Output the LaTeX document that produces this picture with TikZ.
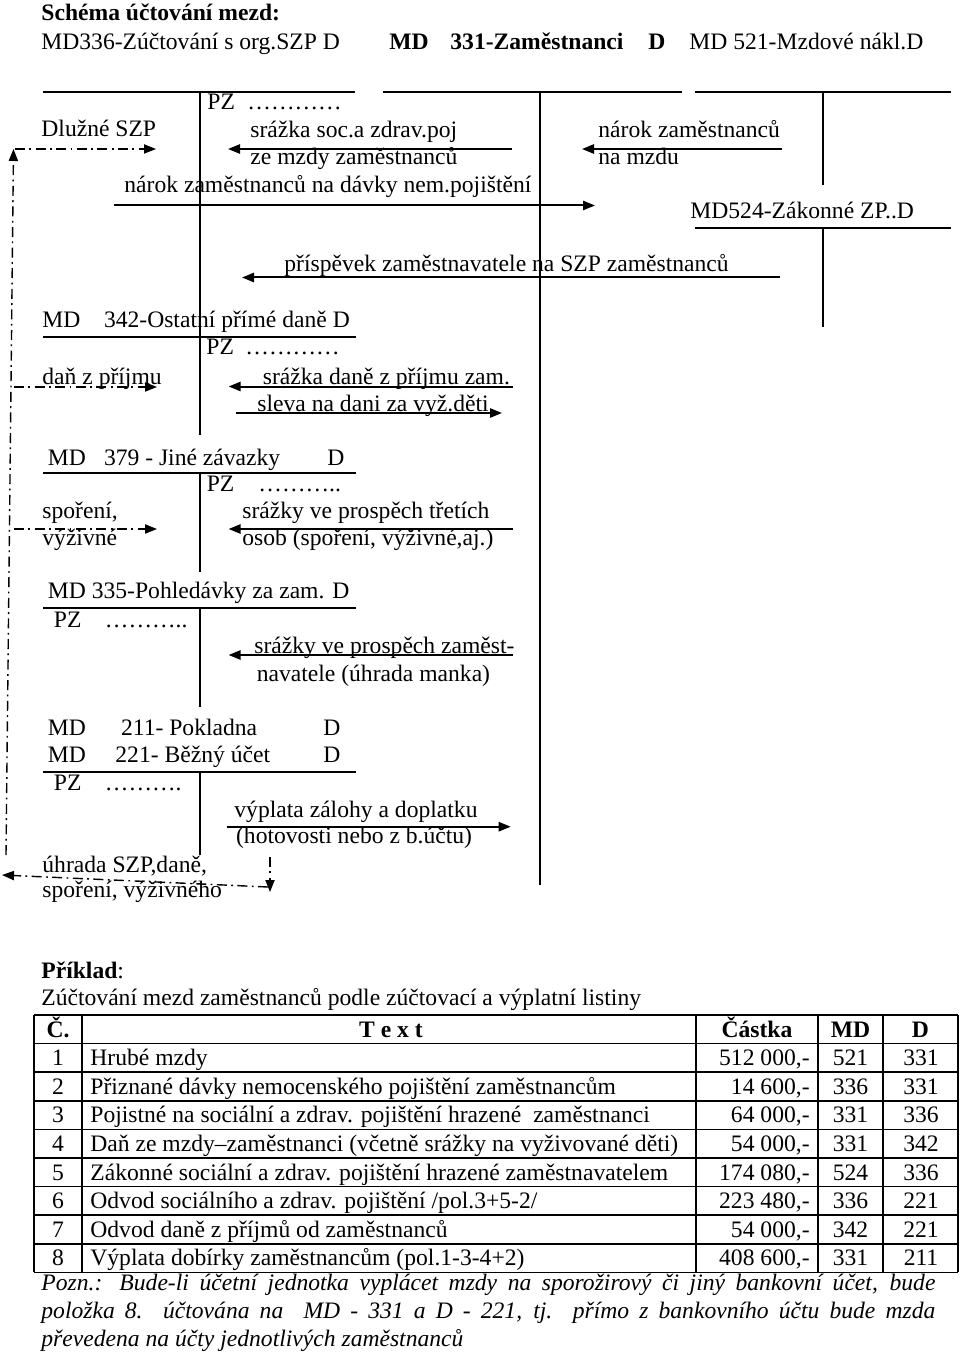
\documentclass[tikz,border=0pt]{standalone}
\usepackage{fontspec}
\setmainfont{Liberation Serif}
\usetikzlibrary{arrows.meta}
\newcommand\fs{\fontsize{11.8}{14}\selectfont}
\begin{document}
\begin{tikzpicture}[x=0.5pt,y=-0.5pt,
  t/.style={anchor=base west,inner sep=0pt,font=\fs},
  tb/.style={anchor=base west,inner sep=0pt,font=\fs\bfseries},
  tc/.style={anchor=base,inner sep=0pt,font=\fs},
  tcb/.style={anchor=base,inner sep=0pt,font=\fs\bfseries},
  tr/.style={anchor=base east,inner sep=0pt,font=\fs},
  acct/.style={line width=1pt},
  arr/.style={line width=1pt,-{Triangle[length=6pt,width=4.6pt]}},
  dd/.style={line width=0.7pt,dash pattern=on 5pt off 2.2pt on 0.9pt off 2.2pt,-{Triangle[length=6pt,width=4.6pt]}},
  grid/.style={line width=0.75pt}]
\useasboundingbox (0,0) rectangle (960,1353);

% ---------- headings
\node[tb] (title) at (41,21) {Schéma účtování mezd:};
\node[t] (a336) at (41,50) {MD336-Zúčtování s org.SZP D};
\node[tb] (a331md) at (389,50) {MD};
\node[tb] (a331) at (450,50) {331-Zaměstnanci};
\node[tb] (a331d) at (648,50) {D};
\node[t] (a521) at (689,50) {MD 521-Mzdové nákl.D};

% ---------- top T accounts
\draw[acct] (43,92) -- (355,92);
\draw[acct] (383,92) -- (682,92);
\draw[acct] (695,92) -- (951,92);
\draw[acct] (200,92) -- (200,435);
\draw[acct] (540,92) -- (540,885);
\draw[acct] (823,92) -- (823,185);

\node[t] (pz336) at (207,110) {PZ};
\node[t] (dots336) at (247,110) {…………};
\node[t] (dluz) at (41,137) {Dlužné SZP};
\node[t] (srsoc1) at (250,138) {srážka soc.a zdrav.poj};
\node[t] (srsoc2) at (250,165) {ze mzdy zaměstnanců};
\node[t] (narokd) at (124,193) {nárok zaměstnanců na dávky nem.pojištění};
\node[t] (narokm1) at (598,138) {nárok zaměstnanců};
\node[t] (narokm2) at (598,165) {na mzdu};
\node[t] (a524) at (690,219) {MD524-Zákonné ZP..D};
\node[t] (prisp) at (284,272) {příspěvek zaměstnavatele na SZP zaměstnanců};

\draw[acct] (695,228) -- (951,228);
\draw[acct] (823,228) -- (823,327);

\draw[arr] (512,149) -- (228,149);
\draw[arr] (782,149) -- (582,149);
\draw[arr] (114,205.5) -- (595,205.5);
\draw[arr] (780,277.5) -- (242,277.5);

% ---------- 342
\node[t] (md342) at (42,328) {MD};
\node[t] (a342) at (103.6,328) {342-Ostatní přímé daně D};
\draw[acct] (43,337) -- (356,337);
\node[t] (pz342) at (206,355) {PZ};
\node[t] (dots342) at (245,355) {…………};
\node[t] (dan) at (42,384) {daň z příjmu};
\node[t] (srdan) at (262.5,384) {srážka daně z příjmu zam.};
\node[t] (sleva) at (257,411) {sleva na dani za vyž.děti};
\draw[arr] (512.5,386.5) -- (228.6,386.5);
\draw[arr] (235.7,413) -- (502,413);

% ---------- 379
\node[t] (md379) at (47.5,465) {MD};
\node[t] (a379) at (103.6,465) {379 - Jiné závazky};
\node[t] (d379) at (327,465) {D};
\draw[acct] (43,473) -- (356,473);
\draw[acct] (200,473) -- (200,572);
\node[t] (pz379) at (206.4,491) {PZ};
\node[t] (dots379) at (258,491) {………..};
\node[t] (spor1) at (42,518) {spoření,};
\node[t] (spor2) at (42,545) {výživné};
\node[t] (srtr1) at (242,518) {srážky ve prospěch třetích};
\node[t] (srtr2) at (242,545) {osob (spoření, výživné,aj.)};
\draw[arr] (512.5,529) -- (228.6,529);

% ---------- 335
\node[t] (a335) at (47.5,598) {MD 335-Pohledávky za zam. D};
\draw[acct] (43,608) -- (356,608);
\draw[acct] (200,608) -- (200,707);
\node[t] (pz335) at (53.6,627) {PZ};
\node[t] (dots335) at (104.5,627) {………..};
\node[t] (srza1) at (254,653) {srážky ve prospěch zaměst-};
\node[t] (srza2) at (256.4,681) {navatele (úhrada manka)};
\draw[arr] (512.5,655) -- (228.6,655);

% ---------- 211 / 221
\node[t] (md211) at (47.5,735) {MD};
\node[t] (a211) at (120.7,735) {211- Pokladna};
\node[t] (d211) at (323,735) {D};
\node[t] (md221) at (47.5,762) {MD};
\node[t] (a221) at (115,762) {221- Běžný účet};
\node[t] (d221) at (323,762) {D};
\draw[acct] (43,772) -- (356,772);
\draw[acct] (200,772) -- (200,855);
\node[t] (pz211) at (53.6,790) {PZ};
\node[t] (dots211) at (104.5,790) {……….};
\node[t] (vypl1) at (234,817) {výplata zálohy a doplatku};
\node[t] (vypl2) at (235.7,843) {(hotovosti nebo z b.účtu)};
\draw[arr] (226.8,826.7) -- (510.7,826.7);
\node[t] (uhr1) at (42,872) {úhrada SZP,daně,};
\node[t] (uhr2) at (42,897) {spoření, výživného};

% ---------- dash-dot flows
\draw[dd] (6,855) -- (13.5,149);
\draw[dd] (15,149) -- (156,149);
\draw[dd] (14,387) -- (157,387);
\draw[dd] (14,529) -- (157,529);
\draw[dd] (270,857) -- (270,892);
\draw[dd] (268,887) -- (2,875);

% ---------- example
\node[t] (prik) at (41,978) {\textbf{Příklad}:};
\node[t] (zuct) at (41,1005) {Zúčtování mezd zaměstnanců podle zúčtovací a výplatní listiny};

\foreach \yy in {1015,1043.6,1072.2,1100.8,1129.4,1158,1186.6,1215.2,1243.8,1272.4}
  \draw[grid] (34,\yy) -- (958,\yy);
\foreach \xx in {34,82,696,818,883,958}
  \draw[grid] (\xx,1015) -- (\xx,1272.4);

\node[tcb] (hc) at (58,1037) {Č.};
\node[tcb] (ht) at (391,1037) {T e x t};
\node[tcb] (ha) at (757,1037) {Částka};
\node[tcb] (hmd) at (850.5,1037) {MD};
\node[tcb] (hd) at (920.5,1037) {D};

\foreach \n/\txt/\amt/\md/\dd [count=\i] in {
  1/Hrubé mzdy/512 000{,}-/521/331,
  2/Přiznané dávky nemocenského pojištění zaměstnancům/14 600{,}-/336/331,
  3/Pojistné na sociální a zdrav. pojištění hrazené\ \ zaměstnanci/64 000{,}-/331/336,
  4/Daň ze mzdy–zaměstnanci (včetně srážky na vyživované děti)/54 000{,}-/331/342,
  5/Zákonné sociální a zdrav. pojištění hrazené zaměstnavatelem/174 080{,}-/524/336,
  6/Odvod sociálního a zdrav. pojištění \slash pol.3+5-2\slash/223 480{,}-/336/221,
  7/Odvod daně z příjmů od zaměstnanců/54 000{,}-/342/221,
  8/Výplata dobírky zaměstnancům (pol.1-3-4+2)/408 600{,}-/331/211}
{
  \pgfmathsetmacro\yb{1015+28.6*\i+22}
  \node[tc] (rn\i) at (58,\yb) {\n};
  \node[t] (rt\i) at (90,\yb) {\txt};
  \node[tr] (ra\i) at (810,\yb) {\amt};
  \node[tc] (rm\i) at (850.5,\yb) {\md};
  \node[tc] (rd\i) at (921,\yb) {\dd};
}

% ---------- note
\node[t] (pozn1) at (41,1290) {\itshape\makebox[447pt][s]{Pozn.: Bude-li účetní jednotka vyplácet mzdy na sporožirový či jiný bankovní účet, bude}};
\node[t] (pozn2) at (41,1318) {\itshape\makebox[447pt][s]{položka 8. účtována na\ \ MD - 331 a D - 221, tj. přímo z bankovního účtu bude mzda}};
\node[t] (pozn3) at (41,1346) {\itshape převedena na účty jednotlivých zaměstnanců};
\end{tikzpicture}
\end{document}
